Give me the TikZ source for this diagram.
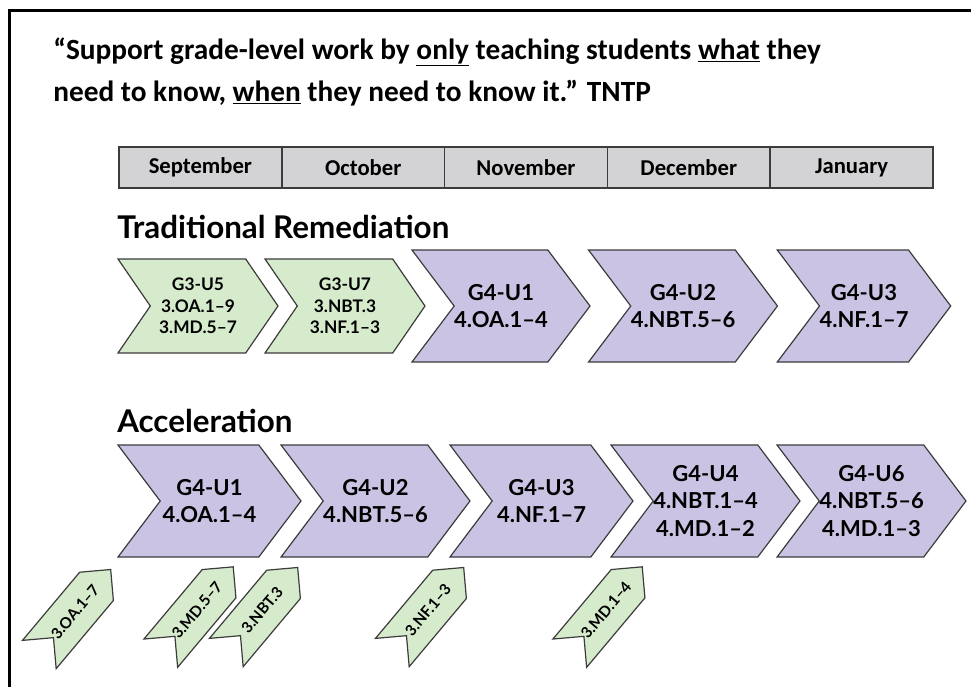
\documentclass[tikz,border=0pt]{standalone}
\usepackage{fontspec}
\setmainfont{Carlito}
\newfontfamily\boxfont{Lato}
\usetikzlibrary{shapes.symbols}
\definecolor{unitgreen}{RGB}{214,234,204}
\definecolor{unitpurple}{RGB}{203,195,227}
\definecolor{monthgray}{RGB}{211,211,213}
\definecolor{edgegray}{RGB}{60,60,60}
\begin{document}
\begin{tikzpicture}[x=0.75pt,y=-0.75pt,
    month/.style={draw=edgegray,line width=1.1pt,fill=monthgray,minimum width=122.1pt,minimum height=30.75pt,inner sep=0pt,font=\bfseries\fontsize{17}{20}\selectfont},
    chev/.style={signal,signal from=west,signal to=east,draw=edgegray,line width=0.9pt,inner sep=0pt,align=center},
    unit/.style={chev,fill=unitpurple,minimum height=84pt,signal pointer angle=106,font=\boxfont\bfseries\fontsize{16.5}{20.5}\selectfont},
    review/.style={chev,fill=unitgreen,minimum width=120pt,minimum height=70.5pt,signal pointer angle=111,font=\boxfont\bfseries\fontsize{13}{16}\selectfont},
    tag/.style={chev,fill=unitgreen,minimum width=83.25pt,minimum height=33pt,signal pointer angle=90,rotate=50,font=\boxfont\bfseries\fontsize{11.5}{13}\selectfont},
    heading/.style={anchor=base west,inner sep=0pt,font=\boxfont\bfseries\fontsize{23.5}{26}\selectfont}]
    \useasboundingbox (0,0) rectangle (971,687);
    \draw[line width=2.2pt] (9.5,687) -- (9.5,10.5) -- (971,10.5);
    % quote
    \node[anchor=base west,inner sep=0pt,font=\bfseries\fontsize{22}{26}\selectfont] (quote1) at (53,59)
        {“Support grade-level work by \underline{only} teaching students \underline{what} they};
    \node[anchor=base west,inner sep=0pt,font=\bfseries\fontsize{22}{26}\selectfont] (quote2) at (53,101)
        {need to know, \underline{when} they need to know it.” TNTP};
    % months
    \node[month] (sep) at (200.4,167.5) {September};
    \node[month] (oct) at (363.2,167.5) {October};
    \node[month] (nov) at (526,167.5) {November};
    \node[month] (dec) at (688.8,167.5) {December};
    \node[month] (jan) at (851.6,167.5) {January};
    % remediation first
    \node[heading] (trad) at (117,238) {Traditional Remediation};
    \node[review] (t1) at (198,306) {G3-U5\\3.OA.1–9\\3.MD.5–7};
    \node[review] (t2) at (345,306) {G3-U7\\3.NBT.3\\3.NF.1–3};
    \node[unit,minimum width=129pt] (t3) at (501,306) {G4-U1\\4.OA.1–4};
    \node[unit,minimum width=129pt] (t4) at (683,306) {G4-U2\\4.NBT.5–6};
    \node[unit,minimum width=129pt] (t5) at (864,306) {G4-U3\\4.NF.1–7};
    % grade-level units with just-in-time pieces
    \node[heading] (acc) at (117,432) {Acceleration};
    \node[unit,minimum width=137.25pt] (a1) at (209.5,501) {G4-U1\\4.OA.1–4};
    \node[unit,minimum width=137.25pt] (a2) at (375.5,501) {G4-U2\\4.NBT.5–6};
    \node[unit,minimum width=137.25pt] (a3) at (541.5,501) {G4-U3\\4.NF.1–7};
    \node[unit,minimum width=137.25pt] (a4) at (705.5,501) {G4-U4\\4.NBT.1–4\\4.MD.1–2};
    \node[unit,minimum width=137.25pt] (a5) at (871.5,501) {G4-U6\\4.NBT.5–6\\4.MD.1–3};
    \node[tag] (r1) at (75,612) {3.OA.1–7};
    \node[tag] (r2) at (197,610) {3.MD.5–7};
    \node[tag] (r3) at (262,610) {3.NBT.3};
    \node[tag] (r4) at (428,610) {3.NF.1–3};
    \node[tag] (r5) at (606,610) {3.MD.1–4};
\end{tikzpicture}
\end{document}
